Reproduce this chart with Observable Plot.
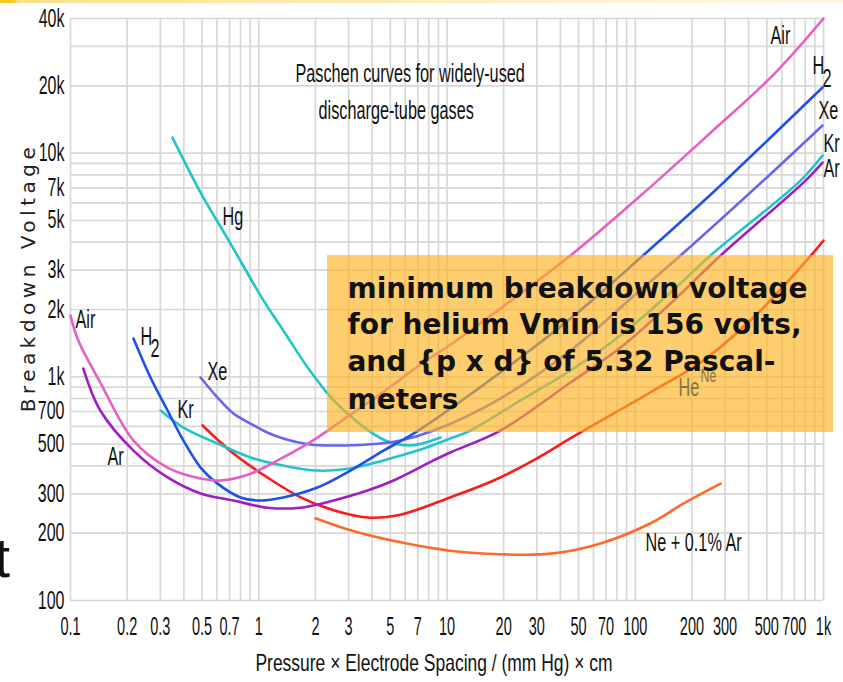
<!DOCTYPE html>
<html><head><meta charset="utf-8">
<script src="https://cdn.jsdelivr.net/npm/d3@7"></script>
<script src="https://cdn.jsdelivr.net/npm/@observablehq/plot@0.6"></script>
<style>
html,body{margin:0;padding:0;background:#fff;}
#wrap{position:relative;width:843px;height:682px;overflow:hidden;}
#strip{position:absolute;left:0;top:0;width:843px;height:3px;background:linear-gradient(to right,#f6c828 0,#f6c828 14px,#fbe08a 18px,#fdf0c8 60%,#fff8e6 100%);z-index:2;}
</style></head><body><div id="wrap"><div id="strip"></div></div>
<script>
// ---- axis ticks ----
const xTickValues = [0.1,0.2,0.3,0.5,0.7,1,2,3,5,7,10,20,30,50,70,100,200,300,500,700,1000];
const xTickLabels = ["0.1","0.2","0.3","0.5","0.7","1","2","3","5","7","10","20","30","50","70","100","200","300","500","700","1k"];
const yTickValues = [100,200,300,500,700,1000,2000,3000,5000,7000,10000,20000,40000];
const yTickLabels = ["100","200","300","500","700","1k","2k","3k","5k","7k","10k","20k","40k"];

// ---- Paschen curves (pd in mm Hg·cm, breakdown voltage in V) ----
const airX = [0.100,0.110,0.144,0.216,0.328,0.491,0.627,0.904,1.35,2.05,3.07,4.71,7.23,10.8,24.6,45.3,107,242,543,1000];
const airY = [1879,1453,943,519,393,351,344,369,436,535,678,869,1135,1420,2357,3485,6464,11990,22460,40000];
const h2X  = [0.216,0.266,0.328,0.398,0.491,0.604,0.800,1.02,1.35,2.05,3.07,4.60,6.80,19.2,45.3,107,242,302,988];
const h2Y  = [1483,993,707,519,393,333,289,280,289,320,381,468,564,1045,1822,3415,6332,7542,19650];
const xeX  = [0.491,0.604,0.734,0.904,1.11,1.35,1.88,2.50,3.78,5.66,8.48,19.2,45.3,103,174,480,988];
const xeY  = [993,808,685,618,564,530,498,493,498,519,575,800,1311,2381,3485,7542,13290];
const krX  = [0.301,0.398,0.604,0.904,1.35,2.05,3.07,4.60,6.97,10.4,13.3,24.6,45.3,83.5,154,251,755,988];
const krY  = [707,593,503,436,401,381,389,423,468,530,575,784,1067,1530,2381,3485,7542,9757];
const hgX  = [0.348,0.491,0.708,1.06,1.35,1.82,2.50,3.47,4.71,6.40,9.24];
const hgY  = [11740,6668,3944,2193,1611,1101,784,612,519,493,535];
const arX  = [0.117,0.144,0.216,0.328,0.491,0.734,1.11,1.67,2.50,3.78,5.20,8.48,10.4,19.2,45.3,83.5,154,284,803,988];
const arY  = [1089,707,468,355,301,280,260,260,280,310,344,423,459,575,943,1352,2127,3485,7542,9078];
const neX  = [0.503,0.734,1.11,1.67,2.50,3.78,5.66,10.4,17.7,28.8,48.1,120,230,446,885,1000];
const neY  = [606,454,355,289,253,235,242,289,344,423,547,851,1183,1919,3595,4067];
const neArX = [2.00,3.07,5.66,10.4,19.2,35.5,65.4,120,180,284];
const neArY = [233,206,182,167,161,162,180,221,271,333];

// ---- curve labels ----
const labelText = ["Air","H","2","Xe","Kr","Ar","Hg","Air","H","2","Xe","Kr","Ar","Ne + 0.1% Ar"];
const labelX    = [0.1063,0.2354,0.266,0.534,0.370,0.157,0.642,523,874,988,940.6,1000,1000,113.4];
const labelY    = [1804,1514,1338,1056,714,436,5207,33550,24640,21560,15500,11040,8535,180];
const heNeText  = ["He","Ne"];
const heNeX     = [169.7,222.4];
const heNeY     = [896,1013];
const heNeSize  = [25,19];

// ---- title lines ----
const titleLines = ["Paschen curves for widely-used","discharge-tube gases"];
const titleX = [1.567,2.077];
const titleY = [22690,15500];

// ---- annotation ----
const noteLines = ["minimum breakdown voltage","for helium Vmin is 156 volts,","and {p x d} of 5.32 Pascal-","meters"];
const noteY = [2481,1705,1165,788];
const noteX = 2.96;
const noteBoxX = [2.318,1130];
const noteBoxY = [564,3485];

const xGrid = d3.scaleLog().domain([0.1,1000]).ticks();
const yGrid = d3.scaleLog().domain([100,40000]).ticks();

const curve = (X, Y, color) => Plot.line(X, {x: X, y: Y, stroke: color, strokeWidth: 2.6, curve: "catmull-rom"});

const chart = Plot.plot({
  width: 843, height: 682,
  marginLeft: 70, marginRight: 20, marginTop: 18, marginBottom: 82,
  style: {fontFamily: "Liberation Sans", fontSize: "24px", background: "transparent", overflow: "visible", color: "#111"},
  x: {type: "log", domain: [0.1, 1000], axis: null},
  y: {type: "log", domain: [100, 40000], axis: null},
  marks: [
    Plot.ruleX(xGrid, {stroke: "#d8d8d8", strokeWidth: 1.7}),
    Plot.ruleY(yGrid, {stroke: "#d8d8d8", strokeWidth: 1.7}),
    Plot.text(xTickValues, {x: d => d, text: (d, i) => xTickLabels[i], frameAnchor: "bottom", lineAnchor: "top", textAnchor: "middle", dy: 17, fontSize: 25, fill: "#111", ariaDescription: "xtick"}),
    Plot.text(yTickValues, {y: d => d, text: (d, i) => yTickLabels[i], frameAnchor: "left", lineAnchor: "middle", textAnchor: "end", dx: -6, fontSize: 25, fill: "#111", ariaDescription: "ytick"}),
    curve(neArX, neArY, "#ff6a2a"),
    curve(neX, neY, "#ff1a1a"),
    curve(arX, arY, "#a21cc4"),
    curve(krX, krY, "#22c4cc"),
    curve(hgX, hgY, "#22c4cc"),
    curve(xeX, xeY, "#6666f0"),
    curve(h2X, h2Y, "#1f50e8"),
    curve(airX, airY, "#e55fc5"),
    Plot.text(labelText, {x: labelX, y: labelY, text: d => d, textAnchor: "start", fontSize: 25, fill: "#111", ariaDescription: "cond"}),
    Plot.text(titleLines, {x: titleX, y: titleY, text: d => d, textAnchor: "start", fontSize: 25, fill: "#111", ariaDescription: "cond"}),
    Plot.rect([0], {x1: noteBoxX[0], x2: noteBoxX[1], y1: noteBoxY[0], y2: noteBoxY[1], fill: "#fcb220", fillOpacity: 0.65}),
    Plot.text(heNeText, {x: heNeX, y: heNeY, text: d => d, textAnchor: "start", fontSize: heNeSize, fill: "#857440", ariaDescription: "cond"}),
    Plot.text(noteLines, {x: noteX, y: noteY, text: d => d, textAnchor: "start", fontFamily: "DejaVu Sans", fontWeight: "bold", fontSize: 28, fill: "#111"}),
    Plot.text(["Breakdown Voltage"], {frameAnchor: "left", textAnchor: "middle", lineAnchor: "middle", dx: -42, dy: -32, rotate: -90, fontFamily: "DejaVu Sans", fontSize: 20, fill: "#222", ariaDescription: "ylabel"}),
    Plot.text(["Pressure × Electrode Spacing / (mm Hg) × cm"], {frameAnchor: "bottom", textAnchor: "middle", lineAnchor: "middle", dx: -13, dy: 63, fontSize: 23, fill: "#111", ariaDescription: "xlabel"}),
    Plot.text(["t"], {frameAnchor: "left", dx: -76, dy: 250, textAnchor: "start", fontSize: 56, fontFamily: "Liberation Sans, Arial, sans-serif", fill: "#111"})
  ]
});
document.getElementById("wrap").appendChild(chart);

function condense(selector, k) {
  chart.querySelectorAll(selector).forEach(t => {
    let tr = t.getAttribute("transform");
    if (!tr) {
      const x = +(t.getAttribute("x") || 0), y = +(t.getAttribute("y") || 0);
      t.removeAttribute("x"); t.removeAttribute("y");
      tr = `translate(${x},${y})`;
    }
    t.setAttribute("transform", tr + ` scale(${k},1)`);
  });
}
condense('g[aria-description="xtick"] text', 0.58);
condense('g[aria-description="ytick"] text', 0.64);
condense('g[aria-description="cond"] text', 0.65);
condense('g[aria-description="xlabel"] text', 0.76);
chart.querySelectorAll('g[aria-description="ylabel"] text').forEach(t => t.style.letterSpacing = "4.5px");
</script>
</body></html>
